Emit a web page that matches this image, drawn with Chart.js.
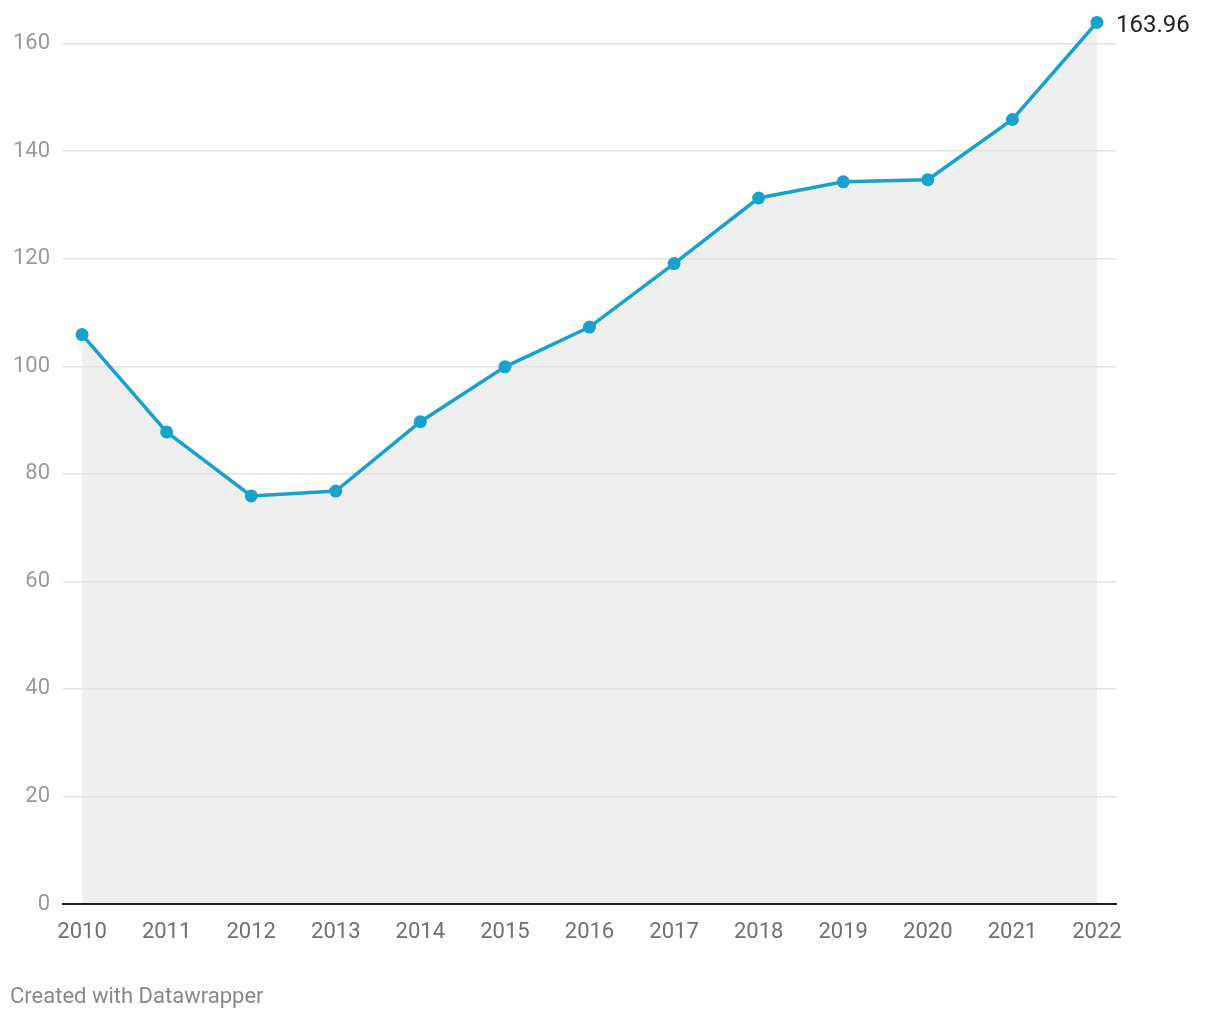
<!DOCTYPE html>
<html>
<head>
<meta charset="utf-8">
<script src="https://cdn.jsdelivr.net/npm/chart.js@4"></script>
<style>
  body { margin: 0; background: #fff; font-family: Roboto, sans-serif; }
  #wrap { position: relative; width: 1220px; height: 1020px; }
  #credit { position: absolute; left: 10px; top: 983px; font-size: 22px; color: #888; }
</style>
</head>
<body>
<div id="wrap">
  <canvas id="myChart" width="1220" height="1020"></canvas>
  <div id="credit">Created with Datawrapper</div>
</div>
<script>
// years on the x axis
const years = [2010, 2011, 2012, 2013, 2014, 2015, 2016, 2017, 2018, 2019, 2020, 2021, 2022];
// values
const values = [105.9, 87.8, 75.9, 76.8, 89.7, 99.9, 107.3, 119.1, 131.3, 134.3, 134.7, 145.9, 163.96];
// y tick labels
const yTicks = [0, 20, 40, 60, 80, 100, 120, 140, 160];

const lineColor = '#18a1cd';

// label for the last point
const lastLabel = {
  id: 'lastLabel',
  afterDatasetsDraw(chart) {
    const meta = chart.getDatasetMeta(0);
    const pt = meta.data[meta.data.length - 1];
    const ctx = chart.ctx;
    ctx.save();
    ctx.font = '24px Roboto';
    ctx.fillStyle = '#222';
    ctx.textBaseline = 'middle';
    ctx.fillText(values[values.length - 1].toFixed(2), pt.x + 19, pt.y + 4);
    ctx.restore();
  }
};

new Chart(document.getElementById('myChart'), {
  type: 'line',
  data: {
    datasets: [{
      data: years.map((y, i) => ({ x: y, y: values[i] })),
      borderColor: lineColor,
      borderWidth: 3.5,
      backgroundColor: '#efefef',
      fill: 'origin',
      clip: false,
      pointRadius: 6.5,
      pointBackgroundColor: lineColor,
      pointBorderWidth: 0,
      tension: 0
    }]
  },
  options: {
    responsive: false,
    animation: false,
    layout: { padding: { top: 17.5, right: 104, bottom: 66, left: 0 } },
    plugins: {
      legend: { display: false },
      tooltip: { enabled: false },
      filler: { drawTime: 'beforeDraw' }
    },
    scales: {
      x: {
        type: 'linear',
        min: 2009.775,
        max: 2022.225,
        afterBuildTicks: s => { s.ticks = years.map(v => ({ value: v })); },
        afterFit: s => { s.height = 50; },
        grid: { display: false, drawTicks: false },
        border: { color: '#1d1d1d', width: 2 },
        ticks: {
          color: '#707070',
          font: { family: 'Roboto', size: 22 },
          padding: 15,
          callback: v => String(v)
        }
      },
      y: {
        min: 0,
        max: 163.25,
        afterBuildTicks: s => { s.ticks = yTicks.map(v => ({ value: v })); },
        afterFit: s => { s.width = 63; },
        grid: { color: '#e2e2e2', lineWidth: 1.5, drawTicks: false },
        border: { display: false },
        ticks: {
          color: '#9a9a9a',
          font: { family: 'Roboto', size: 22 },
          padding: 13
        }
      }
    }
  },
  plugins: [lastLabel]
});
</script>
</body>
</html>
